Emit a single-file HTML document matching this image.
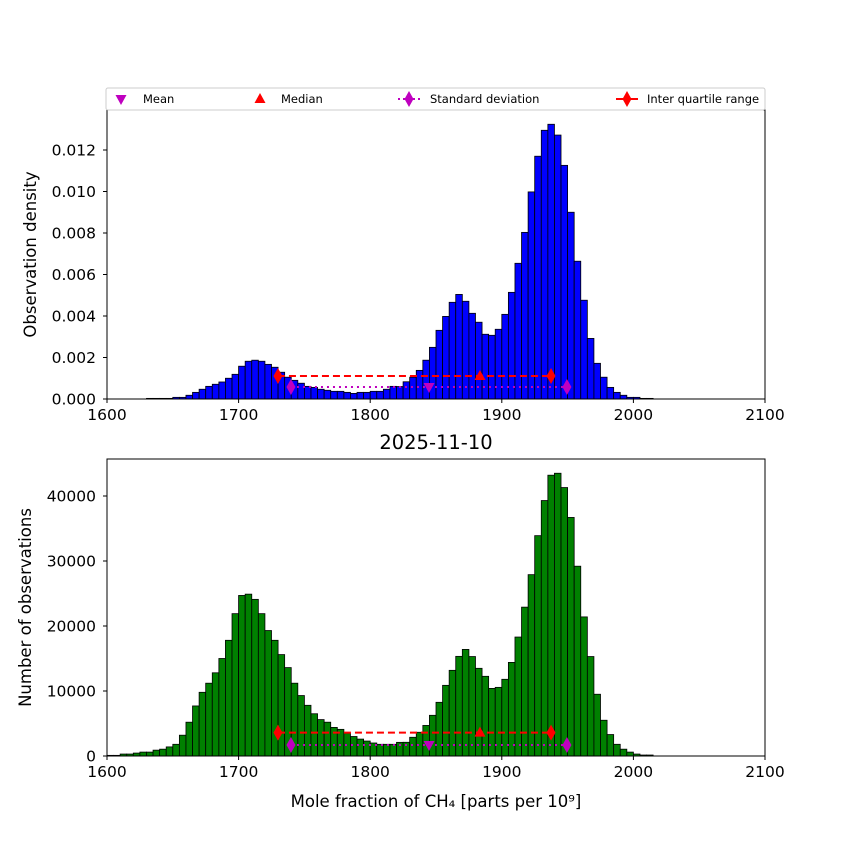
<!DOCTYPE html>
<html><head><meta charset="utf-8"><style>
body{margin:0;background:#fff;}
svg text{font-family:"DejaVu Sans","Liberation Sans",sans-serif;}
</style></head><body>
<svg id="chart" width="850" height="850" xmlns="http://www.w3.org/2000/svg"></svg>
<script>
const binStarts=[1600,1605,1610,1615,1620,1625,1630,1635,1640,1645,1650,1655,1660,1665,1670,1675,1680,1685,1690,1695,1700,1705,1710,1715,1720,1725,1730,1735,1740,1745,1750,1755,1760,1765,1770,1775,1780,1785,1790,1795,1800,1805,1810,1815,1820,1825,1830,1835,1840,1845,1850,1855,1860,1865,1870,1875,1880,1885,1890,1895,1900,1905,1910,1915,1920,1925,1930,1935,1940,1945,1950,1955,1960,1965,1970,1975,1980,1985,1990,1995,2000,2005,2010,2015];
const densityValues=[0,0,0,0,0,0,0.00003,0.00003,0.00003,0.00003,0.00008,0.00008,0.00018,0.00032,0.00047,0.00061,0.00071,0.00082,0.001,0.00119,0.00158,0.00182,0.00187,0.00182,0.00167,0.00153,0.00129,0.00105,0.0009,0.00076,0.00061,0.00056,0.00047,0.00042,0.00037,0.00037,0.00032,0.00027,0.00032,0.00032,0.00037,0.00037,0.00047,0.00061,0.0006,0.00083,0.00105,0.00138,0.00187,0.00249,0.00331,0.00398,0.00466,0.00504,0.00471,0.00413,0.0037,0.00312,0.00307,0.00336,0.00408,0.00514,0.00654,0.00803,0.00998,0.0117,0.01295,0.01324,0.01272,0.01126,0.009,0.00664,0.00476,0.00292,0.00172,0.00105,0.00056,0.00032,0.00018,0.00008,0.00008,0.00003,0.00003,0];
const countValues=[100,100,300,300,450,600,600,900,1050,1400,1800,3200,5200,7700,9800,11200,12800,15000,17800,21900,24700,24900,24100,21900,19300,17800,15600,13600,11200,9300,7800,6500,5600,5200,4400,4100,3500,3000,2600,2300,2000,1800,1800,1800,2100,2110,2880,3650,4700,6260,8260,10870,13180,15330,16400,15300,13490,12260,10400,10560,11800,14400,18300,22900,27900,33900,39300,43200,43500,41300,36700,29200,21400,15300,9500,5500,3300,1800,1050,600,300,150,150,0];
const xTicks=[1600,1700,1800,1900,2000,2100];
const densityTicks=[0,0.002,0.004,0.006,0.008,0.010,0.012];
const densityTickLabels=["0.000","0.002","0.004","0.006","0.008","0.010","0.012"];
const countTicks=[0,10000,20000,30000,40000];
const statMean=1844.7, statMedian=1883.4, statQ1=1729.9, statQ3=1937.4, statSdLo=1739.8, statSdHi=1949.5;
const densityStatY=[0.00111,0.00058];
const countStatY=[3600,1700];

const NS="http://www.w3.org/2000/svg";
const svg=document.getElementById('chart');
function mk(tag,attrs,parent){const e=document.createElementNS(NS,tag);for(const k in attrs)e.setAttribute(k,attrs[k]);(parent||svg).appendChild(e);return e;}
const X0=107,X1=765,XMIN=1600,XMAX=2100;
const xs=v=>X0+(v-XMIN)/(XMAX-XMIN)*(X1-X0);

function panel(opt){
  const g=mk('g',{});
  
  
  const ys=v=>opt.bot-(v/opt.ymax)*(opt.bot-opt.top);
  for(let i=0;i<binStarts.length;i++){
    const v=opt.values[i]; if(v<=0)continue;
    const r=mk('rect',{x:xs(binStarts[i]),y:ys(v),width:xs(binStarts[i]+5)-xs(binStarts[i]),height:opt.bot-ys(v),fill:opt.color,stroke:'#000','stroke-width':0.8},g);
    
    
  }
  const yI=ys(opt.statY[0]), yS=ys(opt.statY[1]);
  const iq=mk('line',{x1:xs(statQ1),x2:xs(statQ3),y1:yI,y2:yI,stroke:'#ff0000','stroke-width':2,'stroke-dasharray':'7,4'},g);
  
  
  const sd=mk('line',{x1:xs(statSdLo),x2:xs(statSdHi),y1:yS,y2:yS,stroke:'#bf00bf','stroke-width':2,'stroke-dasharray':'2,4'},g);
  
  
  [statQ1,statQ3].forEach(v=>{const d=mk('polygon',{points:diamond(xs(v),yI),fill:'#ff0000'},g);
    
    });
  [statSdLo,statSdHi].forEach(v=>{const d=mk('polygon',{points:diamond(xs(v),yS),fill:'#bf00bf'},g);
    
    });
  const med=mk('polygon',{points:triUp(xs(statMedian),yI),fill:'#ff0000'},g);
  
  
  const mn=mk('polygon',{points:triDown(xs(statMean),yS),fill:'#bf00bf'},g);
  
  
  const fr=mk('rect',{x:X0,y:opt.top,width:X1-X0,height:opt.bot-opt.top,fill:'none',stroke:'#000','stroke-width':1},g);
  
  
  xTicks.forEach(t=>{const x=xs(t);mk('line',{x1:x,x2:x,y1:opt.bot,y2:opt.bot+4,stroke:'#000'},g);
    const tx=mk('text',{x:x,y:opt.bot+21,'font-size':15.5,'text-anchor':'middle'},g);tx.textContent=t;
    
    });
  opt.yticks.forEach((t,i)=>{const y=ys(t);mk('line',{x1:X0-4,x2:X0,y1:y,y2:y,stroke:'#000'},g);
    const tx=mk('text',{x:X0-11,y:y+5.5,'font-size':15.5,'text-anchor':'end'},g);tx.textContent=opt.ylabels[i];
    
    });
  const yl=mk('text',{x:0,y:0,'font-size':16.5,'text-anchor':'middle',transform:`translate(${opt.ylx},${(opt.top+opt.bot)/2}) rotate(-90)`},g);
  yl.textContent=opt.ylabel;
  
  
}
function diamond(x,y){return `${x},${y-8} ${x+4.5},${y} ${x},${y+8} ${x-4.5},${y}`;}
function triUp(x,y){return `${x},${y-6} ${x+5.5},${y+4} ${x-5.5},${y+4}`;}
function triDown(x,y){return `${x-5.5},${y-4} ${x+5.5},${y-4} ${x},${y+6}`;}

panel({name:'density-panel',top:110,bot:399,ymax:0.012*289/249,values:densityValues,color:'#0000ff',yticks:densityTicks,ylabels:densityTickLabels,ylabel:'Observation density',statY:densityStatY,ylx:36});
panel({name:'count-panel',top:459,bot:756,ymax:40000*297/260,values:countValues,color:'#008000',yticks:countTicks,ylabels:countTicks.map(String),ylabel:'Number of observations',statY:countStatY,ylx:31});

const title=mk('text',{x:436,y:449,'font-size':19.5,'text-anchor':'middle'});
title.textContent='2025-11-10';


const xl=mk('text',{x:436,y:807,'font-size':16.5,'text-anchor':'middle'});
xl.textContent='Mole fraction of CH₄ [parts per 10⁹]';



const lg=mk('g',{});


mk('rect',{x:106,y:88,width:659,height:22,fill:'#fff',stroke:'#ccc','stroke-width':1,rx:2},lg);
function legText(x,s){const t=mk('text',{x:x,y:103,'font-size':11.5},lg);t.textContent=s;
  
  }
const l1=mk('polygon',{points:triDown(121,99),fill:'#bf00bf'},lg);


legText(143,'Mean');
const l2=mk('polygon',{points:triUp(260,99),fill:'#ff0000'},lg);


legText(281,'Median');
mk('line',{x1:398,x2:420,y1:99,y2:99,stroke:'#bf00bf','stroke-width':2,'stroke-dasharray':'2,3'},lg);
const l3=mk('polygon',{points:diamond(409,99),fill:'#bf00bf'},lg);


legText(430,'Standard deviation');
mk('line',{x1:616,x2:638,y1:99,y2:99,stroke:'#ff0000','stroke-width':2},lg);
const l4=mk('polygon',{points:diamond(627,99),fill:'#ff0000'},lg);


legText(647,'Inter quartile range');
</script>
</body></html>
